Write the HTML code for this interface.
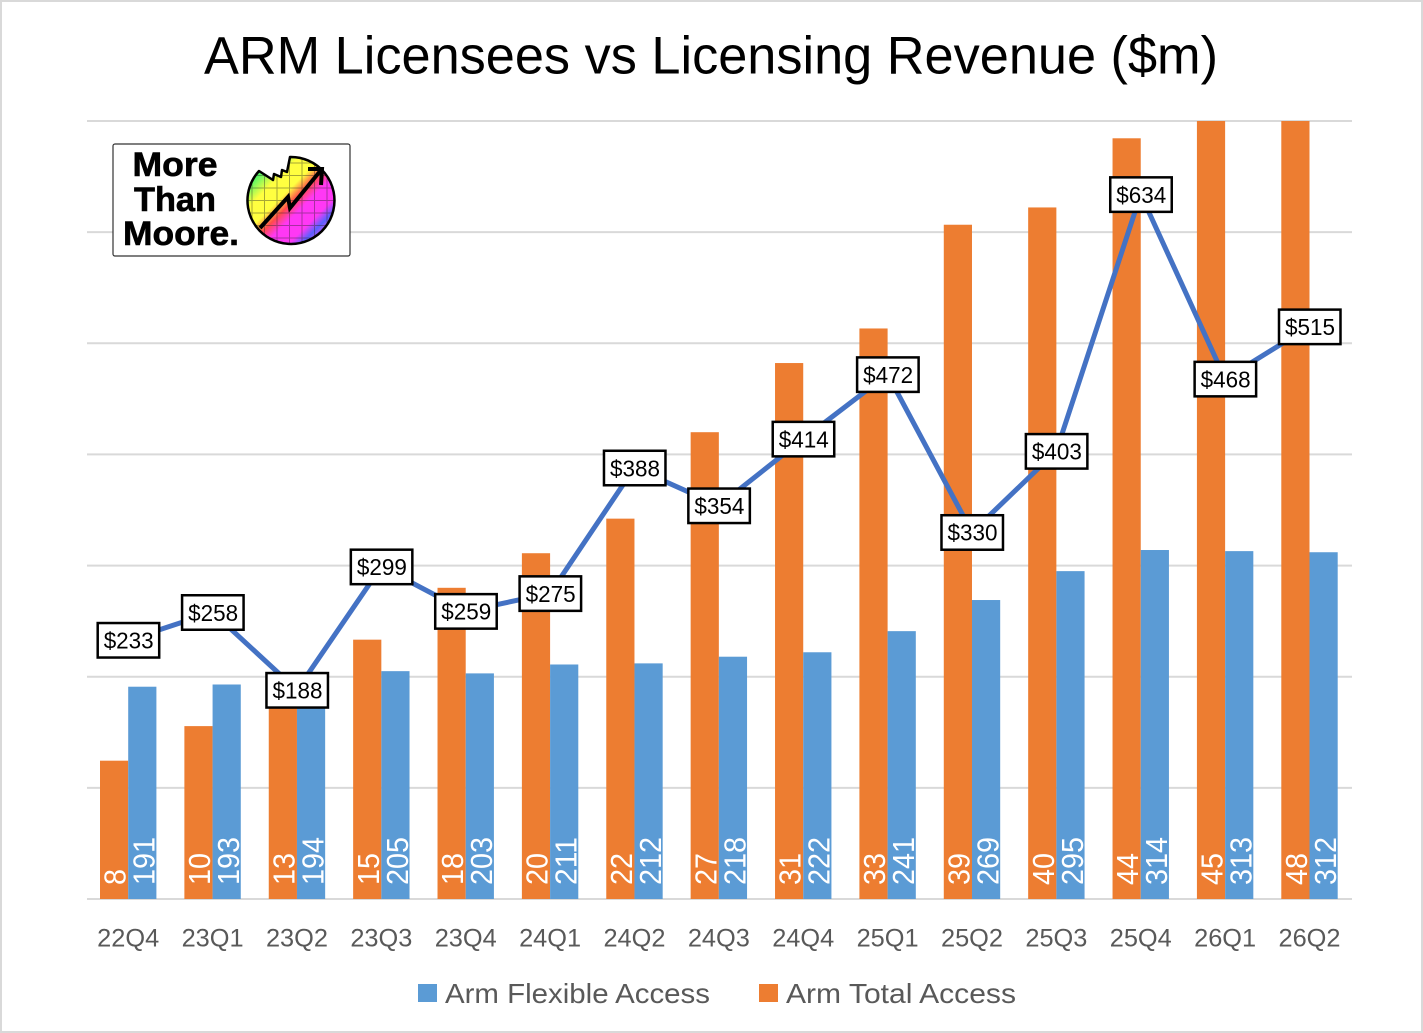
<!DOCTYPE html>
<html lang="en">
<head>
<meta charset="utf-8">
<title>ARM Licensees vs Licensing Revenue ($m)</title>
<style>
html,body{margin:0;padding:0;background:#fff;width:1423px;height:1033px;overflow:hidden}
svg{display:block}
text{font-family:"Liberation Sans",sans-serif}
</style>
</head>
<body>
<svg id="chart" xmlns="http://www.w3.org/2000/svg" width="1423" height="1033" viewBox="0 0 1423 1033">
  <defs>
    <linearGradient id="rainbow" gradientUnits="userSpaceOnUse" x1="248" y1="182" x2="312" y2="246">
      <stop offset="0" stop-color="#3df56a"/>
      <stop offset=".2" stop-color="#ffff40"/>
      <stop offset=".38" stop-color="#ffff40"/>
      <stop offset=".5" stop-color="#ff4a4a"/>
      <stop offset=".62" stop-color="#ff38f5"/>
      <stop offset=".8" stop-color="#ff38f5"/>
      <stop offset=".9" stop-color="#5a60ff"/>
      <stop offset="1" stop-color="#e050f5"/>
    </linearGradient>
    <clipPath id="logo-clip"><path d="M259 171 L273 180 L274 174 L281 177 L282 170 L287 172 L290 157 A43.500 43.500 0 1 1 259 171 Z"/></clipPath>
    <clipPath id="plot-clip"><rect x="80" y="120" width="1280" height="780"/></clipPath>
  </defs>
  <rect x="0" y="0" width="1423" height="1033" fill="#fff"/>
  <rect x="1" y="1" width="1421" height="1031" fill="none" stroke="#d9d9d9" stroke-width="2"/>
  <text x="711" y="73.500" font-size="53" fill="#000" text-anchor="middle" textLength="1014" lengthAdjust="spacingAndGlyphs">ARM Licensees vs Licensing Revenue ($m)</text>
  <g id="grid"></g>
  <g id="orange-bars" clip-path="url(#plot-clip)"></g>
  <g id="blue-bars"></g>
  <g id="bar-labels"></g>
  <g id="revenue-line"></g>
  <g id="revenue-labels"></g>
  <g id="x-axis"></g>

  <g>
    <rect x="113" y="144" width="237" height="112" rx="2" fill="#fff" stroke="#333" stroke-width="1.2"/>
    <g font-weight="bold" fill="#000" text-anchor="middle" font-size="34" stroke="#000" stroke-width=".6">
      <text x="175" y="176" textLength="85" lengthAdjust="spacingAndGlyphs">More</text>
      <text x="175" y="211" textLength="82" lengthAdjust="spacingAndGlyphs">Than</text>
      <text x="181" y="245" textLength="116" lengthAdjust="spacingAndGlyphs">Moore.</text>
    </g>
    <g>
      <g clip-path="url(#logo-clip)">
        <rect x="240" y="150" width="100" height="100" fill="url(#rainbow)"/>
        <path d="M252 150V250M264.500 150V250M277 150V250M289.500 150V250M302 150V250M314.500 150V250M327 150V250M240 163H340M240 175.500H340M240 188H340M240 200.500H340M240 213H340M240 225.500H340M240 238H340" stroke="#222" stroke-opacity=".4" stroke-width="1" fill="none"/>
      </g>
      <path d="M259 171 L273 180 L274 174 L281 177 L282 170 L287 172 L290 157 A43.500 43.500 0 1 1 259 171 Z" fill="none" stroke="#000" stroke-width="2.500" stroke-linejoin="round"/>
      <path d="M260 228 L288 197 L290 208 L321 170" fill="none" stroke="#000" stroke-width="4"/>
      <path d="M308 169 L322 169 L321 185" fill="none" stroke="#000" stroke-width="4"/>
    </g>
  </g>

  <g>
    <g>
      <rect x="418" y="984" width="19" height="18" fill="#5b9bd5"/>
      <text x="445" y="1003" font-size="28" fill="#595959" textLength="265" lengthAdjust="spacingAndGlyphs">Arm Flexible Access</text>
    </g>
    <g>
      <rect x="759" y="984" width="19" height="18" fill="#ed7d31"/>
      <text x="786" y="1003" font-size="28" fill="#595959" textLength="230" lengthAdjust="spacingAndGlyphs">Arm Total Access</text>
    </g>
  </g>
</svg>
<script>
const categories = ["22Q4","23Q1","23Q2","23Q3","23Q4","24Q1","24Q2","24Q3","24Q4","25Q1","25Q2","25Q3","25Q4","26Q1","26Q2"];
const totalAccess = [8,10,13,15,18,20,22,27,31,33,39,40,44,45,48];
const flexibleAccess = [191,193,194,205,203,211,212,218,222,241,269,295,314,313,312];
const revenue = [233,258,188,299,259,275,388,354,414,472,330,403,634,468,515];
const primaryTicks = [0,100,200,300,400,500,600,700];
const primaryMax = 700;
const secondaryMax = 45;

const NS = 'http://www.w3.org/2000/svg';
const plotTop = 121, plotBottom = 899, plotLeft = 87, plotRight = 1352;
const firstX = 128.2, lastX = 1309.5, barW = 28.2;
const xAt = i => firstX + i * (lastX - firstX) / (categories.length - 1);
const yPrimary = v => plotBottom - (v / primaryMax) * (plotBottom - plotTop);
const ySecondary = v => plotBottom - (Math.min(v, secondaryMax) / secondaryMax) * (plotBottom - plotTop);
const make = (tag, parent) => { const e = document.createElementNS(NS, tag); parent.appendChild(e); return e; };
const group = id => document.getElementById(id);

primaryTicks.forEach(t => {
  const l = make('line', group('grid'));
  
  
  l.setAttribute('x1', plotLeft);
  l.setAttribute('x2', plotRight);
  l.setAttribute('y1', yPrimary(t));
  l.setAttribute('y2', yPrimary(t));
  l.setAttribute('stroke', '#d9d9d9');
  l.setAttribute('stroke-width', 2);
});

categories.forEach((c, i) => {
  const x = xAt(i);

  const o = make('rect', group('orange-bars'));
  
  
  o.setAttribute('x', x - barW);
  o.setAttribute('width', barW);
  o.setAttribute('y', ySecondary(totalAccess[i]));
  o.setAttribute('height', plotBottom - ySecondary(totalAccess[i]));
  o.setAttribute('fill', '#ed7d31');

  const b = make('rect', group('blue-bars'));
  
  
  b.setAttribute('x', x);
  b.setAttribute('width', barW);
  b.setAttribute('y', yPrimary(flexibleAccess[i]));
  b.setAttribute('height', plotBottom - yPrimary(flexibleAccess[i]));
  b.setAttribute('fill', '#5b9bd5');

  const ot = make('text', group('bar-labels'));
  
  
  ot.setAttribute('transform', 'translate(' + (x - 2.5) + ',885) rotate(-90)');
  ot.setAttribute('font-size', 31);
  ot.setAttribute('fill', '#fff');
  const os = String(totalAccess[i]);
  ot.setAttribute('textLength', os.length * 16);
  ot.setAttribute('lengthAdjust', 'spacingAndGlyphs');
  ot.textContent = os;

  const bt = make('text', group('bar-labels'));
  
  
  bt.setAttribute('transform', 'translate(' + (x + 26.5) + ',885) rotate(-90)');
  bt.setAttribute('font-size', 31);
  bt.setAttribute('fill', '#fff');
  const bs = String(flexibleAccess[i]);
  bt.setAttribute('textLength', bs.length * 16);
  bt.setAttribute('lengthAdjust', 'spacingAndGlyphs');
  bt.textContent = bs;

  const cl = make('text', group('x-axis'));
  
  
  cl.setAttribute('x', x);
  cl.setAttribute('y', 946.5);
  cl.setAttribute('font-size', 25);
  cl.setAttribute('fill', '#595959');
  cl.setAttribute('text-anchor', 'middle');
  cl.setAttribute('textLength', 62);
  cl.setAttribute('lengthAdjust', 'spacingAndGlyphs');
  cl.textContent = c;
});

const line = make('polyline', group('revenue-line'));


line.setAttribute('points', revenue.map((v, i) => xAt(i) + ',' + yPrimary(v)).join(' '));
line.setAttribute('fill', 'none');
line.setAttribute('stroke', '#4472c4');
line.setAttribute('stroke-width', 5);
line.setAttribute('stroke-linejoin', 'round');

revenue.forEach((v, i) => {
  const r = make('rect', group('revenue-labels'));
  
  
  r.setAttribute('x', xAt(i) - 30.5);
  r.setAttribute('y', yPrimary(v) - 17);
  r.setAttribute('width', 61.5);
  r.setAttribute('height', 34.5);
  r.setAttribute('fill', '#fff');
  r.setAttribute('stroke', '#000');
  r.setAttribute('stroke-width', 2.5);

  const t = make('text', group('revenue-labels'));
  
  
  t.setAttribute('x', xAt(i) + 0.5);
  t.setAttribute('y', yPrimary(v) + 8.5);
  t.setAttribute('font-size', 23);
  t.setAttribute('fill', '#000');
  t.setAttribute('text-anchor', 'middle');
  t.setAttribute('textLength', 50);
  t.setAttribute('lengthAdjust', 'spacingAndGlyphs');
  t.textContent = '$' + v;
});
</script>
</body>
</html>
